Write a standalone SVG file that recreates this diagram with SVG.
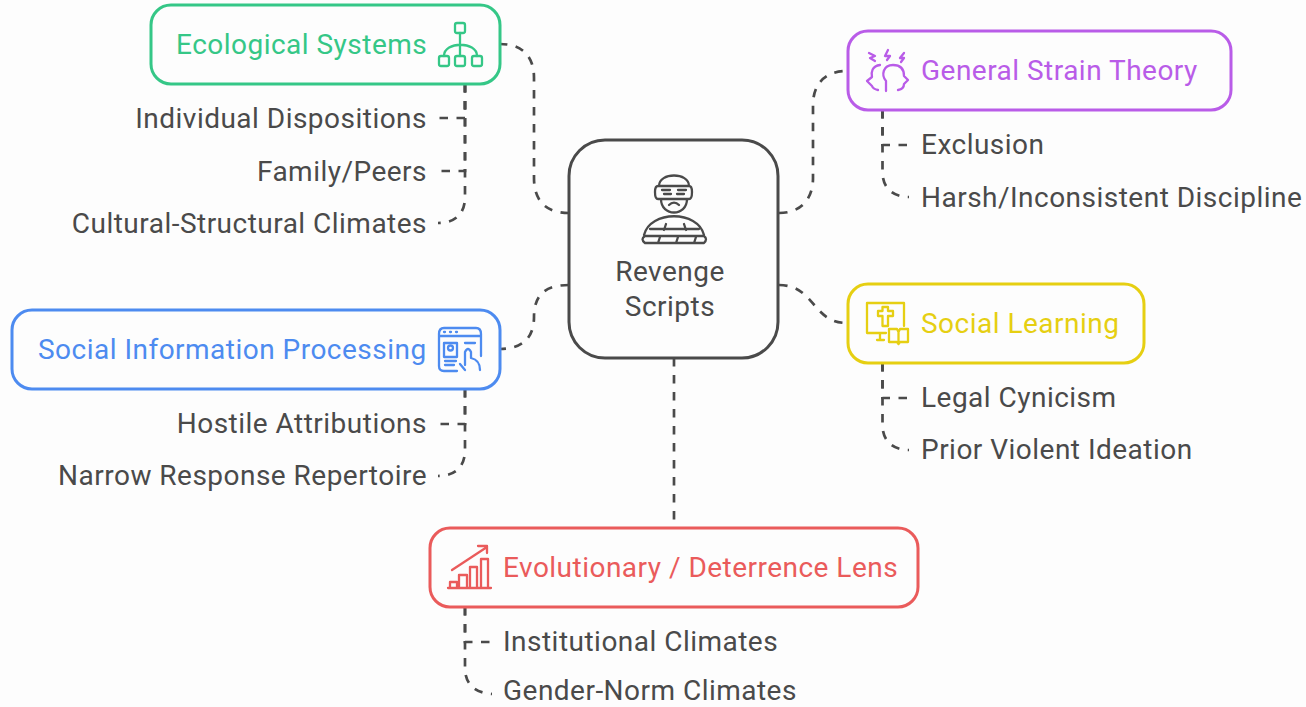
<svg xmlns="http://www.w3.org/2000/svg" width="1306" height="707" viewBox="0 0 1306 707">
<style>
text{font-family:Roboto,"Liberation Sans",sans-serif;font-size:28px;fill:#4a4a4a;letter-spacing:.48px}
.e{text-anchor:end}.m{text-anchor:middle}
.box{fill:#fdfdfd;stroke-width:3}
.c{fill:none;stroke:#4a4a4a;stroke-width:2.7;stroke-dasharray:8.5 8.5}
.i{fill:none;stroke-width:2.3;stroke-linecap:round;stroke-linejoin:round}
.g{stroke:#35c787}.p{stroke:#b95ce8}.y{stroke:#e6cf12}.b{stroke:#4d8bf0}.r{stroke:#ea5b5b}
</style>
<rect width="1306" height="707" fill="#fdfdfd"/>
<g id="connectors">
<path class="c" d="M569 213C545 213 534 200 534 178V78C534 56 522 44 500 44"/>
<path class="c" d="M779 213C800 213 813 200 813 178V105C813 84 825 71 847 71"/>
<path class="c" d="M779 285C815 285 812 323 847 323"/>
<path class="c" d="M569 285C545 285 534 295 534 317C534 338 522 349 500 349"/>
<path class="c" d="M674 358V527"/>
<path class="c" d="M465 84V118H438"/>
<path class="c" d="M465 84V171H438"/>
<path class="c" d="M465 84V197C465 214 455 223 438 223"/>
<path class="c" d="M882.500 110V145H909"/>
<path class="c" d="M882.500 110V172C882.500 188 893 197 909 197"/>
<path class="c" d="M882.500 363V398H909"/>
<path class="c" d="M882.500 363V425C882.500 441 893 450 909 450"/>
<path class="c" d="M465 389V424H438"/>
<path class="c" d="M465 389V450C465 467 455 476 438 476"/>
<path class="c" d="M465 607V642H492"/>
<path class="c" d="M465 607V668C465 685 476 693 492 694"/>
</g>
<g id="center">
<rect class="box" x="569" y="140" width="209" height="218" rx="36" stroke="#4a4a4a"/>
<g class="i" stroke="#4a4a4a">
<path d="M659 186C659 172 689 172 689 186M658 186H689Q692 186 692 192Q692 199 689 199H658Q655 199 655 192Q655 186 658 186ZM661 199C661 217 687 217 687 199M669 205C672 202 676 202 679 205M662 190H670M678 190H686M664 194H671M677 194H684"/>
<path d="M644 235C650 210 698 210 704 235M645 236H704Q708 239 704 243H645Q640 239 645 236ZM650 229H699M664 230L666 224M686 230L684 224M658 243L660 237M676 243L678 237M694 243L696 237"/>
</g>
<text class="m" x="670" y="280.500">Revenge</text>
<text class="m" x="670" y="315.500">Scripts</text>
</g>
<g id="ecological">
<rect class="box" x="151" y="5" width="349" height="79" rx="20" stroke="#35c787"/>
<text x="176" y="54" style="fill:#35c787">Ecological Systems</text>
<g class="i g"><rect x="455" y="23" width="10" height="10" rx="2"/><rect x="439" y="56" width="10" height="10" rx="2"/><rect x="455" y="56" width="10" height="10" rx="2"/><rect x="472" y="56" width="10" height="10" rx="2"/><path d="M460 33V56M444 56C444 41 477 41 477 56"/></g>
</g>
<g id="strain">
<rect class="box" x="848" y="31" width="383" height="79" rx="20" stroke="#b95ce8"/>
<text x="921" y="80" style="fill:#b95ce8">General Strain Theory</text>
<g class="i p"><path d="M880 65C872 66 871 72 872 77L867 81L872 86Q873 89 878 90M886 91V81C881 75 883 65 893 65C901 65 904 70 904 76L908 80L904 84Q904 89 898 90"/><path d="M869 53L875 56L870 58L875 61M888 50L885 56H890L887 60M904 53L900 58H904L901 62"/></g>
</g>
<g id="learning">
<rect class="box" x="848" y="284" width="296" height="79" rx="20" stroke="#e6cf12"/>
<text x="921" y="333" style="fill:#e6cf12">Social Learning</text>
<g class="i y"><path d="M886 333H867V303H904V326M880 333V340M877 340H884"/><path d="M882.500 307H888V311H893V316H888V326H882.500V316H878V311H882.500Z"/><path d="M889 329H897L898.500 332L900 329H908V342H900L898.500 344L897 342H889ZM898.500 332V343"/></g>
</g>
<g id="sip">
<rect class="box" x="12" y="310" width="488" height="79" rx="20" stroke="#4d8bf0"/>
<text x="38" y="359" style="fill:#4d8bf0">Social Information Processing</text>
<g class="i b"><path d="M457 371H444Q439 371 439 366V334Q439 328 444 328H476Q481 328 481 334V356M439 336H481"/><path d="M444 332H445M450 332H451M456 332H457"/><rect x="444" y="343" width="13" height="14"/><circle cx="450.500" cy="348" r="2.500"/><path d="M445 361H456M445 365H454M465 343H475"/><path d="M460 364L465 370M465 365V352Q468 346 471 352V358Q480 360 480 370"/></g>
</g>
<g id="evolutionary">
<rect class="box" x="430" y="528" width="488" height="79" rx="20" stroke="#ea5b5b"/>
<text x="503" y="577" style="fill:#ea5b5b">Evolutionary / Deterrence Lens</text>
<g class="i r"><path d="M448 588H491M450 587V582H457V587M459 587V575H467V587M470 587V567H477V587M481 587V559H488V587"/><path d="M452 570L487 547M478 546H487V553"/></g>
</g>
<g id="labels">
<text class="e" x="427" y="128">Individual Dispositions</text>
<text class="e" x="427" y="181">Family/Peers</text>
<text class="e" x="427" y="233">Cultural-Structural Climates</text>
<text x="921" y="154">Exclusion</text>
<text x="921" y="207">Harsh/Inconsistent Discipline</text>
<text x="921" y="407">Legal Cynicism</text>
<text x="921" y="459">Prior Violent Ideation</text>
<text class="e" x="427" y="433">Hostile Attributions</text>
<text class="e" x="427" y="485">Narrow Response Repertoire</text>
<text x="503" y="651">Institutional Climates</text>
<text x="503" y="700">Gender-Norm Climates</text>
</g>
</svg>
